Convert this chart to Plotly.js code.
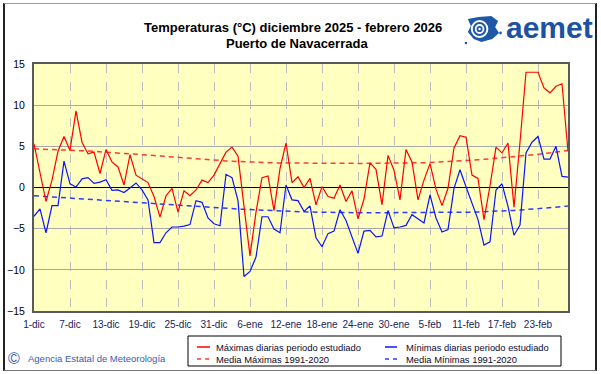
<!DOCTYPE html>
<html>
<head>
<meta charset="utf-8">
<script src="https://cdn.plot.ly/plotly-3.0.1.min.js"></script>
<style>
html,body{margin:0;padding:0;background:#fff;}
#wrap{position:relative;width:601px;height:374px;overflow:hidden;}
#chart{position:absolute;left:0;top:0;width:601px;height:374px;}
#frame{position:absolute;left:3px;top:3px;width:594px;height:368px;box-sizing:border-box;
border-top:1px solid #9a9a9a;border-left:2px solid #222;border-right:2px solid #222;border-bottom:1px solid #777;pointer-events:none;}
</style>
</head>
<body>
<div id="wrap"><div id="chart"></div><div id="frame"></div></div>
<script>
// Daily maximum temperatures (°C), 1 Dec 2025 - 28 Feb 2026
const tmax = [5.3, 2.0, -1.7, 0.9, 4.4, 6.2, 4.5, 9.3, 5.5, 4.1,
  4.3, 1.7, 4.6, 3.1, 2.5, 0.3, 4.0, 1.5, 1.0, 0.6,
  -1.1, -3.6, -1.0, -0.1, -3.0, -0.4, -1.0, -0.3, 0.9, 0.6,
  1.5, 2.9, 4.3, 4.9, 3.8, -2.3, -8.3, -3.0, 1.2, 1.4,
  -2.8, 2.3, 5.4, 0.6, 1.3, 0.0, 1.1, -2.1, 0.1, -1.1,
  -1.3, 0.3, -1.7, -0.4, -3.8, -1.4, 3.0, 2.2, -2.1, 3.9,
  2.1, -1.5, 4.6, 3.1, -1.5, 0.9, 2.9, -0.2, -2.2, -0.1,
  4.8, 6.3, 6.1, 1.5, 1.1, -3.9, 0.2, 4.9, 4.2, 5.4,
  -2.4, 5.5, 14.0, 14.0, 14.0, 12.1, 11.5, 12.3, 12.6, 4.4];
// Daily minimum temperatures (°C)
const tmin = [-3.5, -2.6, -5.5, -2.2, -2.2, 3.2, 0.45, 0.05, 1.05, 1.2,
  0.5, 0.65, 0.95, -0.35, -0.3, -0.6, -0.05, 0.55, -0.3, -1.5,
  -6.7, -6.7, -5.5, -4.8, -4.8, -4.7, -4.5, -1.6, -1.8, -3.7,
  -4.4, -4.65, 1.6, 1.2, -1.6, -10.8, -10.2, -8.45, -3.55, -3.55,
  -5.05, -5.5, 0.3, -1.5, -1.6, -2.9, -2.25, -6.1, -7.2, -5.6,
  -5.3, -2.7, -4.0, -5.9, -8.0, -5.3, -5.2, -6.0, -5.9, -2.8,
  -4.9, -4.8, -4.6, -3.3, -3.8, -4.3, -0.9, -3.7, -5.4, -5.1,
  -0.1, 2.15, 0.1, -1.9, -3.9, -7.0, -6.6, -0.3, 0.45, -2.3,
  -5.8, -4.55, 4.2, 5.5, 6.2, 3.45, 3.45, 5.0, 1.35, 1.25];
// Normal maxima 1991-2020
const normMax = [4.7, 4.68, 4.66, 4.63, 4.6, 4.57, 4.54, 4.51, 4.47, 4.43,
  4.39, 4.35, 4.3, 4.26, 4.21, 4.16, 4.11, 4.05, 4.0, 3.94,
  3.88, 3.82, 3.76, 3.7, 3.64, 3.58, 3.52, 3.47, 3.42, 3.37,
  3.32, 3.27, 3.23, 3.19, 3.15, 3.12, 3.09, 3.06, 3.03, 3.01,
  2.99, 2.98, 2.97, 2.96, 2.95, 2.95, 2.94, 2.94, 2.94, 2.94,
  2.93, 2.93, 2.93, 2.93, 2.93, 2.93, 2.93, 2.94, 2.94, 2.94,
  2.95, 2.95, 2.96, 2.97, 2.99, 3.01, 3.04, 3.07, 3.1, 3.14,
  3.18, 3.22, 3.27, 3.32, 3.37, 3.42, 3.48, 3.54, 3.6, 3.66,
  3.73, 3.8, 3.87, 3.95, 4.03, 4.12, 4.21, 4.3, 4.4, 4.5];
// Normal minima 1991-2020
const normMin = [-1.0, -1.05, -1.1, -1.14, -1.18, -1.22, -1.26, -1.3, -1.34, -1.38,
  -1.42, -1.47, -1.52, -1.57, -1.62, -1.67, -1.72, -1.77, -1.82, -1.87,
  -1.92, -1.97, -2.02, -2.07, -2.12, -2.17, -2.22, -2.27, -2.32, -2.37,
  -2.42, -2.47, -2.52, -2.57, -2.61, -2.65, -2.69, -2.72, -2.75, -2.78,
  -2.82, -2.85, -2.88, -2.91, -2.94, -2.96, -2.98, -3.0, -3.02, -3.03,
  -3.04, -3.05, -3.06, -3.06, -3.07, -3.07, -3.07, -3.07, -3.07, -3.07,
  -3.07, -3.07, -3.07, -3.07, -3.06, -3.06, -3.05, -3.05, -3.04, -3.03,
  -3.02, -3.01, -3.0, -2.99, -2.97, -2.95, -2.92, -2.89, -2.86, -2.82,
  -2.78, -2.74, -2.69, -2.64, -2.58, -2.52, -2.46, -2.39, -2.32, -2.25];
// Tick labels on the day axis (day index from 1 Dec)
const tickDays = [0, 6, 12, 18, 24, 30, 36, 42, 48, 54, 60, 66, 72, 78, 84];
const tickLabels = ['1-dic', '7-dic', '13-dic', '19-dic', '25-dic', '31-dic', '6-ene', '12-ene',
  '18-ene', '24-ene', '30-ene', '5-feb', '11-feb', '17-feb', '23-feb'];
const yTicks = [-15, -10, -5, 0, 5, 10, 15];
const legendNames = ['Máximas diarias periodo estudiado', 'Mínimas diarias periodo estudiado',
  'Media Máximas 1991-2020', 'Media Mínimas 1991-2020'];

const days = tmax.map((_, i) => i);
const FONT = 'Liberation Sans, Arial, sans-serif';

const traces = [
  {x: days, y: normMax, mode: 'lines', line: {color: '#ff3a3a', width: 1.5, dash: '5px,4px'}, hoverinfo: 'skip'},
  {x: days, y: normMin, mode: 'lines', line: {color: '#2a3cff', width: 1.5, dash: '5px,4px'}, hoverinfo: 'skip'},
  {x: days, y: tmax, mode: 'lines', line: {color: '#ff0000', width: 1.2}},
  {x: days, y: tmin, mode: 'lines', line: {color: '#0a14ff', width: 1.2}}
];

// pixel -> paper helpers (plot area: x 34..568, y 64..311)
const px = v => (v - 34) / 534;
const py = v => (311 - v) / 247;

const logoSvg = "<svg xmlns='http://www.w3.org/2000/svg' viewBox='0 0 40 32'>" +
  "<path d='M5 5 L16 3 L29 2 L36 7 L33 13 L37 19 L30 25 L19 28 L11 25 L5 18 L8 12 Z' fill='#1f58a8'/>" +
  "<circle cx='17' cy='15' r='8' fill='none' stroke='white' stroke-width='2'/>" +
  "<circle cx='17' cy='15' r='4' fill='none' stroke='white' stroke-width='1.8'/>" +
  "<circle cx='17' cy='15' r='1.3' fill='white'/>" +
  "<circle cx='38.5' cy='19' r='1.4' fill='#1f58a8'/>" +
  "<circle cx='3' cy='29' r='1.3' fill='#1f58a8'/></svg>";

const LEG = {family: FONT, size: 9.4, color: '#0a0a30'};

const layout = {
  width: 601, height: 374,
  margin: {l: 34, r: 33, t: 64, b: 63, pad: 0},
  paper_bgcolor: '#ffffff',
  plot_bgcolor: '#ffffc0',
  showlegend: false,
  font: {family: FONT, size: 10, color: '#000'},
  xaxis: {
    range: [0, 89], tickmode: 'array', tickvals: tickDays, ticktext: tickLabels,
    showgrid: true, gridcolor: '#bdbdbd', griddash: 'dash', gridwidth: 1,
    zeroline: false, showline: true, mirror: true, linecolor: '#5a5a5a', linewidth: 2,
    ticks: '', ticklabelstandoff: 3,
    tickfont: {family: FONT, size: 10, color: '#15255e'}, fixedrange: true
  },
  yaxis: {
    range: [-15, 15], tickmode: 'array', tickvals: yTicks,
    showgrid: true, gridcolor: '#a8a8a8', gridwidth: 1,
    zeroline: true, zerolinecolor: '#000000', zerolinewidth: 1.5,
    showline: true, mirror: true, linecolor: '#5a5a5a', linewidth: 2,
    ticks: '', ticklabelstandoff: 5,
    tickfont: {family: FONT, size: 10.5, color: '#000'}, fixedrange: true
  },
  annotations: [
    {xref: 'paper', yref: 'paper', x: px(293), y: py(27), xanchor: 'center', yanchor: 'middle', showarrow: false,
     text: '<b>Temperaturas (°C) diciembre 2025 - febrero 2026</b>', font: {family: FONT, size: 13, color: '#000'}},
    {xref: 'paper', yref: 'paper', x: px(297), y: py(44), xanchor: 'center', yanchor: 'middle', showarrow: false,
     text: '<b>Puerto de Navacerrada</b>', font: {family: FONT, size: 13, color: '#000'}},
    {xref: 'paper', yref: 'paper', x: px(549), y: py(28), xanchor: 'center', yanchor: 'middle', showarrow: false,
     text: '<b>aemet</b>', font: {family: FONT, size: 30, color: '#1d52a3'}},
    {xref: 'paper', yref: 'paper', x: px(214), y: py(347), xanchor: 'left', yanchor: 'middle', showarrow: false,
     text: legendNames[0], font: LEG},
    {xref: 'paper', yref: 'paper', x: px(404), y: py(347), xanchor: 'left', yanchor: 'middle', showarrow: false,
     text: legendNames[1], font: LEG},
    {xref: 'paper', yref: 'paper', x: px(214), y: py(359), xanchor: 'left', yanchor: 'middle', showarrow: false,
     text: legendNames[2], font: LEG},
    {xref: 'paper', yref: 'paper', x: px(404), y: py(359), xanchor: 'left', yanchor: 'middle', showarrow: false,
     text: legendNames[3], font: LEG},
    {xref: 'paper', yref: 'paper', x: px(14), y: py(358), xanchor: 'center', yanchor: 'middle', showarrow: false,
     text: '©', font: {family: FONT, size: 16, color: '#3a5bb0'}},
    {xref: 'paper', yref: 'paper', x: px(26), y: py(358), xanchor: 'left', yanchor: 'middle', showarrow: false,
     text: 'Agencia Estatal de Meteorología', font: {family: FONT, size: 9.5, color: '#3a5bb0'}}
  ],
  shapes: [
    {type: 'rect', xref: 'paper', yref: 'paper', x0: px(188), x1: px(561), y0: py(366), y1: py(336),
     line: {color: '#000', width: 1}, fillcolor: 'rgba(0,0,0,0)'},
    {type: 'line', xref: 'paper', yref: 'paper', x0: px(197), x1: px(210), y0: py(347), y1: py(347), line: {color: '#ff0000', width: 1.5}},
    {type: 'line', xref: 'paper', yref: 'paper', x0: px(385), x1: px(397), y0: py(347), y1: py(347), line: {color: '#0a14ff', width: 1.5}},
    {type: 'line', xref: 'paper', yref: 'paper', x0: px(197), x1: px(210), y0: py(359), y1: py(359), line: {color: '#ff3a3a', width: 1.5, dash: '4px,4px'}},
    {type: 'line', xref: 'paper', yref: 'paper', x0: px(385), x1: px(397), y0: py(359), y1: py(359), line: {color: '#2a3cff', width: 1.5, dash: '4px,4px'}}
  ],
  images: [
    {source: 'data:image/svg+xml;charset=utf-8,' + encodeURIComponent(logoSvg),
     xref: 'paper', yref: 'paper', x: px(463), y: py(14), sizex: 39 / 534, sizey: 32 / 247,
     xanchor: 'left', yanchor: 'top', sizing: 'stretch', layer: 'above'}
  ]
};

Plotly.newPlot('chart', traces, layout, {displayModeBar: false, staticPlot: true});
</script>
</body>
</html>
